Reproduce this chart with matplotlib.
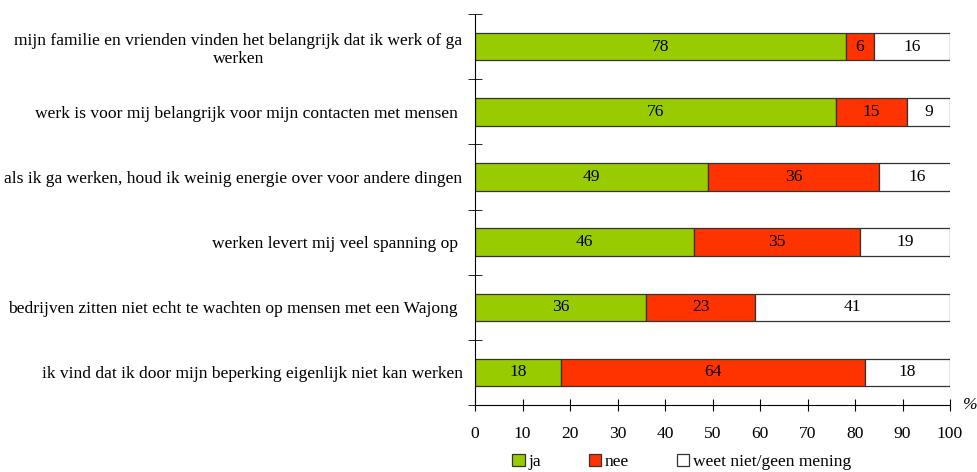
import matplotlib
matplotlib.use("agg")
import matplotlib.pyplot as plt
import numpy as np

plt.rcParams['font.family'] = ['Liberation Serif', 'DejaVu Serif']

categories = [
    'mijn familie en vrienden vinden het belangrijk dat ik werk of ga\nwerken',
    'werk is voor mij belangrijk voor mijn contacten met mensen ',
    'als ik ga werken, houd ik weinig energie over voor andere dingen',
    'werken levert mij veel spanning op ',
    'bedrijven zitten niet echt te wachten op mensen met een Wajong ',
    'ik vind dat ik door mijn beperking eigenlijk niet kan werken',
]
ja = [78, 76, 49, 46, 36, 18]
nee = [6, 15, 36, 35, 23, 64]
weet_niet = [16, 9, 16, 19, 41, 18]
series_names = ['ja', 'nee', 'weet niet/geen mening']
colors = ['#99CC00', '#FF3300', '#FFFFFF']

fs = 12.6

fig = plt.figure(figsize=(9.78, 4.72), dpi=100)
ax = fig.add_axes([0.4857, 0.142, 0.4857, 0.828])

y = np.arange(len(categories))[::-1]
left = np.zeros(len(categories))
handles = []
for vals, name, col in zip([ja, nee, weet_niet], series_names, colors):
    vals = np.array(vals)
    bars = ax.barh(y, vals, left=left, height=0.42, color=col,
                   edgecolor='#333333', linewidth=0.9, label=name)
    handles.append(bars)
    for yi, l, v in zip(y, left, vals):
        ax.text(l + v / 2, yi, str(v), ha='center', va='center', fontsize=fs)
    left += vals

ax.set_xlim(0, 100)
ax.set_ylim(-0.5, len(categories) - 0.5)
ax.set_xticks(np.arange(0, 101, 10))
ax.tick_params(axis='x', direction='inout', length=8, labelsize=fs, pad=11)

ax.set_yticks(y)
ax.set_yticklabels(categories, fontsize=fs, multialignment='center')
ax.tick_params(axis='y', which='major', length=0, pad=9)
ax.set_yticks(np.arange(-0.5, len(categories), 1), minor=True)
ax.tick_params(axis='y', which='minor', direction='inout', length=10)

for s in ['top', 'right']:
    ax.spines[s].set_visible(False)

ax.text(1.043, 0.0, '%', transform=ax.transAxes, ha='center', va='center',
        fontsize=fs, style='italic')

fig.legend(handles=handles, labels=series_names, loc='lower center',
           bbox_to_anchor=(0.697, -0.03), ncol=3, frameon=False, fontsize=fs,
           handlelength=0.7, handleheight=0.7, handletextpad=0.2,
           columnspacing=2.75)

plt.savefig('out.png', dpi=100)
